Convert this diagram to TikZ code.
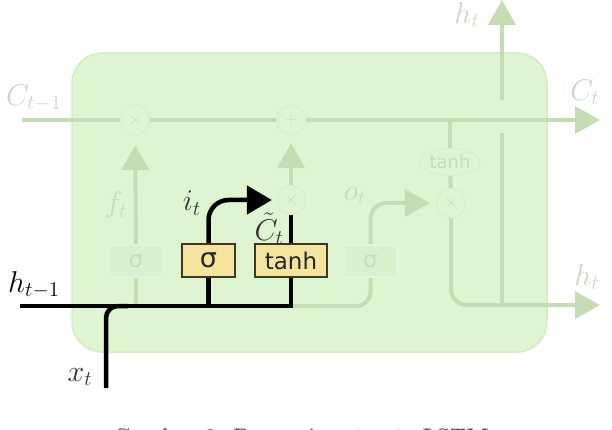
\documentclass[tikz,border=0pt]{standalone}
\usepackage{fontspec}
\newfontfamily\gatefont{DejaVu Sans}
\usetikzlibrary{arrows.meta, positioning, shapes.geometric}

\definecolor{cellgreen}{HTML}{DFF5D2}
\definecolor{celledge}{HTML}{D3ECC4}
\definecolor{fadeline}{HTML}{C6DDB3}
\definecolor{fadetext}{HTML}{CDD8C4}
\definecolor{gateyellow}{HTML}{F4E49E}
\definecolor{gateedge}{HTML}{3A3922}

\newcommand{\lstmlab}[1]{\scalebox{1.45}{$#1$}}

\pgfdeclarelayer{back}
\pgfdeclarelayer{wires}
\pgfsetlayers{back,wires,main}

\begin{document}
\begin{tikzpicture}[
    x=1pt, y=-1pt,
    cell/.style={rectangle, rounded corners=30pt, minimum width=475pt, minimum height=299pt, fill=cellgreen, draw=celledge, line width=1.5pt},
    gate/.style={rectangle, minimum height=33pt, inner sep=0pt, text centered, fill=gateyellow, draw=gateedge, line width=2pt, text=black!85, font=\gatefont\fontsize{23}{24}\selectfont},
    fadegate/.style={rectangle, minimum width=53pt, minimum height=32pt, inner sep=0pt, text centered, fill=cellgreen!85!fadeline, draw=fadeline!40, line width=1.5pt, text=fadetext, font=\gatefont\fontsize{23}{24}\selectfont},
    op/.style={circle, minimum size=29pt, inner sep=0pt, fill=cellgreen, draw=fadeline!60, line width=1.2pt, text=fadetext, font=\fontsize{17.28}{18}\selectfont},
    lbl/.style={text=fadetext, font=\fontsize{20}{24}\selectfont},
    blbl/.style={text=black!80, font=\fontsize{20}{24}\selectfont},
    flow/.style={line width=4.5pt, black},
    faded/.style={line width=4pt, fadeline},
    bigtip/.style={-{Triangle[length=25pt, width=27pt]}}
]
\useasboundingbox (0,0) rectangle (612,430);

% Cell body
\begin{pgfonlayer}{back}
\node[cell] (cellbox) at (309.5,202.5) {};
\end{pgfonlayer}

% Pointwise operations
\node[op] (opf) at (135,120) {$\times$};
\node[op] (opadd) at (291,120) {$+$};
\node[op] (opi) at (291,200) {$\times$};
\node[op] (opo) at (451,203) {$\times$};
\node[ellipse, minimum width=60pt, minimum height=27pt, inner sep=0pt, fill=cellgreen, draw=fadeline!60, line width=1.2pt, text=fadetext, font=\gatefont\fontsize{18}{18}\selectfont] (tanhc) at (450,162) {tanh};

% Gates
\node[fadegate] (sigf) at (136,261) {σ};
\node[gate, minimum width=53pt, font=\gatefont\fontsize{27}{28}\selectfont] (sigi) at (208.5,260.5) {σ};
\node[gate, minimum width=72pt] (tanhi) at (291,260.5) {tanh};
\node[fadegate] (sigo) at (370.5,261) {σ};

% Free ends
\coordinate (cin) at (22,120);
\coordinate (cout) at (600,120);
\coordinate (hin) at (20,306);
\coordinate (xin) at (106,388);
\coordinate (xjoin) at (128,306);
\coordinate (hout) at (600,305);
\coordinate (hsplit) at (502,305);
\coordinate (hlow) at (502,133);
\coordinate (hhigh) at (502,100);
\coordinate (htop) at (502,0);

% Faded part of the cell
\begin{pgfonlayer}{wires}
\draw[faded, bigtip] (cin) -- (opf) -- (opadd) -- (cout);
\draw[faded] (sigf.south |- hin) -- (sigf.south);
\draw[faded, bigtip, shorten >=10pt] (sigf.north) -- (opf.south);
\draw[faded, bigtip, shorten >=8pt] (opi.north) -- (opadd.south);
\draw[faded, rounded corners=14pt] (tanhi.south |- hin) -| (sigo.south);
\draw[faded, bigtip, rounded corners=16pt, shorten >=6pt] (sigo.north) |- (opo.west);
\draw[faded] (tanhc.north |- cin) -- (tanhc.north);
\draw[faded] (tanhc) -- (opo);
\draw[faded, bigtip, rounded corners=16pt] (opo.south) |- (hout);
\draw[faded] (hsplit) -- (hlow);
\draw[faded, bigtip] (hhigh) -- (htop);

% Input gate path
\draw[flow] (hin) -| (tanhi.south);
\draw[flow] (sigi.south) -- (sigi.south |- hin);
\draw[flow, rounded corners=12pt] (xin) |- (xjoin);
\draw[flow, -{Triangle[length=25pt, width=28pt]}, rounded corners=20pt, shorten >=4pt] (sigi.north) |- (opi.west);
\draw[flow] (tanhi.north) -- (opi.south);
\end{pgfonlayer}

% Labels
\node[lbl] (lcprev) at (34,98) {\lstmlab{C_{t-1}}};
\node[lbl] (lcnext) at (585,92) {\lstmlab{C_t}};
\node[lbl] (lhtop) at (467,15) {\lstmlab{h_t}};
\node[lbl] (lhout) at (587,277) {\lstmlab{h_t}};
\node[lbl] (lf) at (116,205) {\lstmlab{f_t}};
\node[lbl] (lo) at (355,196) {\lstmlab{o_t}};
\node[blbl] (li) at (192,203) {\lstmlab{i_t}};
\node[blbl, anchor=east, inner sep=0pt] (lctil) at (284,229) {\lstmlab{\tilde{C}_t}};
\node[text=black, font=\fontsize{20}{24}\selectfont] (lhprev) at (34,285) {\lstmlab{h_{t-1}}};
\node[blbl] (lx) at (80,377) {\lstmlab{x_t}};

% Caption (cut off at the lower edge)
\node[anchor=north, inner sep=0pt, text=black!75, font=\bfseries\fontsize{21}{24}\selectfont] (caption) at (301,429) {Gambar 2. Proses input gate LSTM};
\end{tikzpicture}
\end{document}
